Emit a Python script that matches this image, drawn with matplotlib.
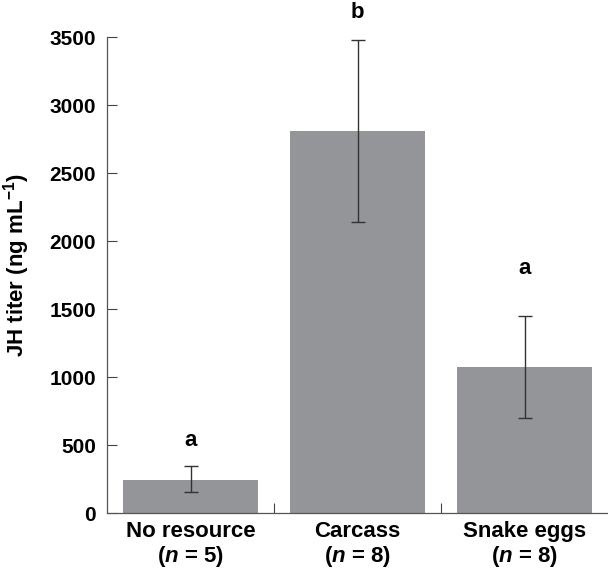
import numpy as np
import matplotlib.pyplot as plt

plt.rcParams['font.family'] = ['Liberation Sans', 'DejaVu Sans']
plt.rcParams['font.weight'] = 'bold'
plt.rcParams['mathtext.fontset'] = 'custom'
plt.rcParams['mathtext.rm'] = 'Liberation Sans:bold'
plt.rcParams['mathtext.it'] = 'Liberation Sans:italic:bold'
plt.rcParams['mathtext.default'] = 'rm'

groups = ['No resource', 'Carcass', 'Snake eggs']
n_sizes = [5, 8, 8]
means = [245, 2810, 1075]
err_low = [152, 2140, 700]
err_high = [345, 3480, 1448]
letters = ['a', 'b', 'a']
letter_y = [530, 3680, 1800]

fig = plt.figure(figsize=(6.08, 5.68), dpi=100)
ax = fig.add_axes([0.176, 0.0968, 0.824, 0.838])

x = np.arange(len(groups))
means = np.array(means)
yerr = [means - np.array(err_low), np.array(err_high) - means]
ax.bar(x, means, width=0.81, color='#939598', zorder=1)
ax.errorbar(x, means, yerr=yerr, fmt='none', ecolor='#333333',
            elinewidth=1.0, capsize=4.7, capthick=1.0, zorder=2)

for xi, lt, ly in zip(x, letters, letter_y):
    ax.text(xi, ly, lt, ha='center', va='center', fontsize=16,
            fontweight='bold', clip_on=False)

ax.set_xlim(-0.5, 2.5)
ax.set_ylim(0, 3500)
ax.set_yticks(np.arange(0, 3501, 500))
ax.set_xticks(x)
ax.set_xticklabels(['%s\n($\\mathit{n}$ = %d)' % (g, n) for g, n in zip(groups, n_sizes)],
                   fontsize=16, linespacing=1.15)
ax.set_xticks([0.5, 1.5], minor=True)
ax.tick_params(axis='x', which='major', length=0, pad=5.5)
ax.tick_params(axis='x', which='minor', direction='in', length=7,
               width=0.8, color='#444444')
ax.tick_params(axis='y', direction='in', length=7, width=0.8,
               color='#444444', labelsize=15, pad=8)

for side in ['top', 'right']:
    ax.spines[side].set_visible(False)
for side in ['left', 'bottom']:
    ax.spines[side].set_color('#555555')
    ax.spines[side].set_linewidth(0.9)

ax.set_ylabel('JH titer (ng mL$^{-1}$)', fontsize=16, fontweight='bold')
ax.yaxis.set_label_coords(-0.15, 0.52)

fig.savefig('out.png', dpi=100)
